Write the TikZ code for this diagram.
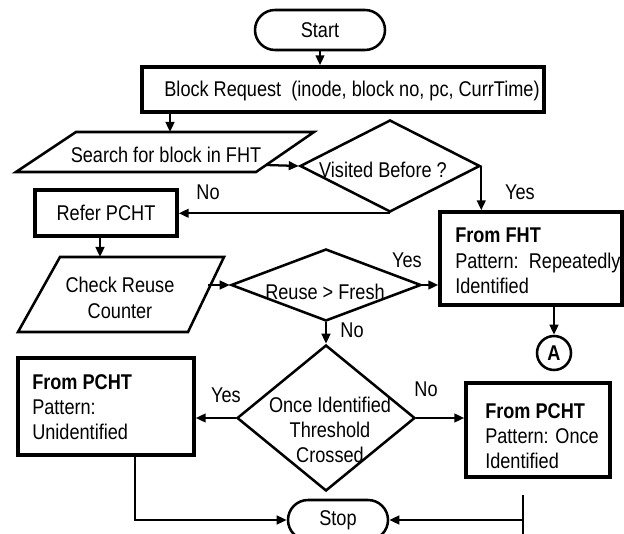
\documentclass[tikz,border=0pt]{standalone}
\usepackage{fontspec}
\setmainfont{Liberation Sans}[FakeStretch=0.85]
\usetikzlibrary{shapes.geometric,arrows.meta,calc}
\begin{document}
\begin{tikzpicture}[x=0.75pt,y=-0.75pt,
  every node/.style={font=\fontsize{16}{19}\selectfont},
  thickbox/.style={draw,line width=2.6pt,rectangle,inner sep=0pt},
  term/.style={draw,line width=1.9pt,rectangle,rounded corners=15pt,minimum height=30pt,inner sep=0pt},
  dec/.style={draw,line width=1.9pt,diamond,inner sep=0pt},
  para/.style={draw,line width=1.9pt,line join=miter},
  conn/.style={line width=1.7pt,-{Triangle[length=7.5pt,width=6.5pt]}},
  plain/.style={line width=1.7pt},
  lbl/.style={inner sep=0pt},
  boxtxt/.style={inner sep=0pt,align=left,anchor=west}
]
\useasboundingbox (0,0) rectangle (624,534);

% Start
\node[term,minimum width=97.5pt] (start) at (320,30) {Start};
% Block request
\node[thickbox,minimum width=301.5pt,minimum height=33.75pt] (block) at (343,89.5) {};
\node[lbl] (blocktxt) at (352,91) {Block Request\ \ (inode, block no, pc, CurrTime)};

% Search parallelogram
\draw[para] (76,132) -- (314,132) -- (256,172) -- (16,172) -- cycle;
\node[lbl] (search) at (166,155) {Search for block in FHT};
\coordinate (searchTop) at (170,132);
\coordinate (searchR) at (266,165);

% Visited diamond
\node[dec,minimum width=135pt,minimum height=69pt] (vis) at (390,166) {};
\node[lbl] (vistxt) at (383,170) {Visited Before ?};

% Refer PCHT
\node[thickbox,minimum width=106.5pt,minimum height=34.5pt] (refer) at (106,213) {Refer PCHT};

% Check reuse parallelogram
\draw[para] (60,257) -- (224,257) -- (188,332) -- (18,332) -- cycle;
\node[lbl,align=center] (chk) at (120,298) {Check Reuse\\Counter};
\coordinate (chkTop) at (100,257);
\coordinate (chkR) at (208,285);

% Reuse diamond
\node[dec,minimum width=142.5pt,minimum height=54pt] (reuse) at (326,285) {};
\node[lbl] (reusetxt) at (325,292) {Reuse > Fresh};

% From FHT
\node[thickbox,minimum width=136.5pt,minimum height=69.75pt] (fht) at (531,258.5) {};
\node[boxtxt] (fhttxt) at (455,261) {\textbf{From FHT}\\Pattern:\ \ Repeatedly\\Identified};

% Connector A
\node[draw,circle,line width=1.9pt,minimum size=25.5pt,inner sep=0pt] (A) at (554,353) {\textbf{A}};

% Once identified diamond
\node[dec,minimum width=133.5pt,minimum height=109.5pt] (once) at (326,418) {};
\node[lbl,align=center] (oncetxt) at (330,430) {Once Identified\\Threshold\\Crossed};

% Left PCHT box
\node[thickbox,minimum width=132pt,minimum height=72.75pt] (lb) at (106,406.5) {};
\node[boxtxt] (lbtxt) at (32,407) {\textbf{From PCHT}\\Pattern:\\Unidentified};
% Right PCHT box
\node[thickbox,minimum width=108pt,minimum height=70.5pt] (rb) at (538,430) {};
\node[boxtxt] (rbtxt) at (485,436) {\textbf{From PCHT}\\Pattern: Once\\Identified};

% Stop
\node[term,minimum width=75pt] (stop) at (338,520) {Stop};
\coordinate (lbo) at (135,0);
\coordinate (rtop) at (523,495);
\coordinate (rbot) at (523,545);

% Labels
\node[lbl] (no1) at (208,192) {No};
\node[lbl] (yes1) at (520,192) {Yes};
\node[lbl] (yes2) at (407,260) {Yes};
\node[lbl] (no2) at (352,330) {No};
\node[lbl] (yes3) at (226,395) {Yes};
\node[lbl] (no3) at (426,389) {No};

% Connectors
\draw[conn] (start.south) -- (start.south |- block.north);
\draw[conn] (searchTop |- block.south) -- (searchTop);
\draw[conn] (searchR) -- (vis.west);
\draw[conn] (vis.east) -- (vis.east |- fht.north);
\draw[conn] (vis.south) -- (vis.south -| refer.east);
\draw[conn] (chkTop |- refer.south) -- (chkTop);
\draw[conn] (chkR) -- (reuse.west);
\draw[conn] (reuse.east) -- (reuse.east -| fht.west);
\draw[conn] (A.north |- fht.south) -- (A.north);
\draw[conn] (reuse.south) -- (once.north);
\draw[conn] (once.west) -- (once.west -| lb.east);
\draw[conn] (once.east) -- (once.east -| rb.west);
\draw[conn] (lb.south -| lbo) |- (stop.west);
\draw[plain] (rtop) -- (rbot);
\draw[conn] (rtop |- stop.east) -- (stop.east);
\end{tikzpicture}
\end{document}
